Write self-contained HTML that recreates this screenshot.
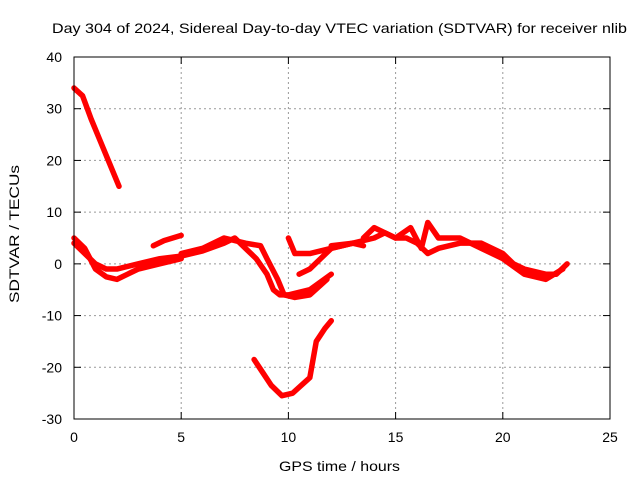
<!DOCTYPE html>
<html><head><meta charset="utf-8"><style>
body{margin:0;background:#fff;}
svg{display:block;font-family:"Liberation Sans",sans-serif;}
</style></head><body>
<svg id="chart" width="640" height="480">
<text x="52" y="33" font-size="14" textLength="575" lengthAdjust="spacingAndGlyphs">Day 304 of 2024, Sidereal Day-to-day VTEC variation (SDTVAR) for receiver nlib</text>
<text x="279" y="471" font-size="14" textLength="121" lengthAdjust="spacingAndGlyphs">GPS time / hours</text>
<text x="19" y="303" font-size="14" textLength="138" lengthAdjust="spacingAndGlyphs" transform="rotate(-90 19 303)">SDTVAR / TECUs</text>
<g id="grid"></g><g id="series"></g>
<rect x="74" y="57" width="536" height="362" fill="none" stroke="#000" stroke-width="1"/>
<g id="ticks"></g>
</svg>
<script>
const xTicks=[0,5,10,15,20,25];
const yTicks=[40,30,20,10,0,-10,-20,-30];
const seg1=[[0,34],[0.4,32.5],[0.8,28],[1.2,24],[1.6,20],[2.1,15]];
const seg2=[[0,5],[0.5,3],[1,-1],[1.5,-2.5],[2,-3],[2.5,-2],[3,-1],[4,0],[5,1]];
const seg3=[[0,4],[0.5,2],[1,0],[1.5,-1],[2,-1],[3,0],[4,1],[5,1.5]];
const seg4=[[3.7,3.5],[4.2,4.5],[5,5.5]];
const seg5=[[5,1.5],[6,2.5],[7,4],[7.5,5],[8,3],[8.5,1],[9,-2],[9.3,-5],[9.6,-6],[10,-6],[11,-5],[12,-2]];
const seg6=[[5,2],[6,3],[7,5],[8,4],[8.7,3.5],[9,1],[9.5,-3],[9.8,-6],[10.3,-6.5],[11,-6],[11.8,-3]];
const seg7=[[10,5],[10.3,2],[11,2],[12,3],[13,4],[13.5,3.5]];
const seg8=[[10.5,-2],[11,-1],[11.5,1],[12,3],[13,4]];
const seg9=[[12,3.5],[13,4],[14,5],[14.5,6],[15,5],[15.5,5],[16,4],[16.5,2],[17,3],[18,4],[19,4],[19.5,3],[20,2],[20.5,0],[21,-1],[22,-2],[22.5,-2],[23,0]];
const seg10=[[13.5,5],[14,7],[15,5],[15.7,7],[16.2,3],[16.5,8],[17,5],[18,5],[19,3],[20,1],[21,-2],[22,-3],[22.8,-1]];
const seg11=[[8.4,-18.5],[8.8,-21],[9.2,-23.5],[9.7,-25.5],[10.2,-25],[11,-22],[11.3,-15],[11.7,-12.5],[12,-11]];
const allSegs=[seg1,seg2,seg3,seg4,seg5,seg6,seg7,seg8,seg9,seg10,seg11];
const NS="http://www.w3.org/2000/svg";
function sx(h){return 74+h*(536/25);}
function sy(v){return 57+(40-v)*(362/70);}
const grid=document.getElementById('grid'),ticks=document.getElementById('ticks'),ser=document.getElementById('series');
function mk(t,a,p){const e=document.createElementNS(NS,t);for(const k in a)e.setAttribute(k,a[k]);p.appendChild(e);return e;}
xTicks.forEach(t=>{
 if(t>0&&t<25){const g=mk('line',{x1:sx(t),x2:sx(t),y1:57,y2:419,stroke:'#999','stroke-dasharray':'2,3'},grid);
 
 }
 const tl=mk('text',{x:sx(t),y:442,'font-size':14,'text-anchor':'middle'},ticks);tl.textContent=t;
 
 
 mk('line',{x1:sx(t),x2:sx(t),y1:419,y2:412,stroke:'#000'},ticks);
 mk('line',{x1:sx(t),x2:sx(t),y1:57,y2:64,stroke:'#000'},ticks);
});
yTicks.forEach(t=>{
 if(t<40&&t>-30){const g=mk('line',{x1:74,x2:610,y1:sy(t),y2:sy(t),stroke:'#999','stroke-dasharray':'2,3'},grid);
 
 }
 const tl=mk('text',{x:62,y:sy(t)+5,'font-size':14,'text-anchor':'end'},ticks);tl.textContent=t;
 
 
 mk('line',{x1:74,x2:81,y1:sy(t),y2:sy(t),stroke:'#000'},ticks);
 mk('line',{x1:610,x2:603,y1:sy(t),y2:sy(t),stroke:'#000'},ticks);
});
allSegs.forEach((s,i)=>{
 const p=mk('polyline',{points:s.map(d=>sx(d[0])+','+sy(d[1])).join(' '),fill:'none',stroke:'#f00','stroke-width':5.5,'stroke-linejoin':'round','stroke-linecap':'round'},ser);
 
 
});
</script>
</body></html>
